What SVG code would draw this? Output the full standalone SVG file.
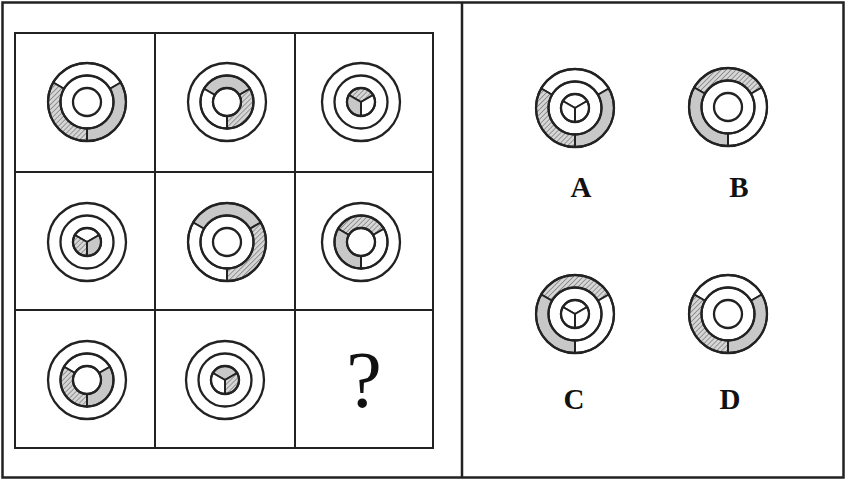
<svg xmlns="http://www.w3.org/2000/svg" xmlns:xlink="http://www.w3.org/1999/xlink" width="846" height="480" viewBox="0 0 846 480">
<style>
.frame{fill:none;stroke:#222;stroke-width:2.5}
.grid{fill:none;stroke:#222;stroke-width:2}
.ring{fill:none;stroke:#222;stroke-width:2.3}
.w{fill:#fff;stroke:#222;stroke-width:2}
.g{fill:#c8c8c8;stroke:#222;stroke-width:2}
.h{fill:url(#hatch);stroke:#222;stroke-width:2}
.lbl{font-family:"Liberation Serif","Times New Roman",serif;font-weight:bold;font-size:29px;fill:#111;text-anchor:middle}
.q{font-family:"Liberation Serif","Times New Roman",serif;font-size:80px;fill:#111;text-anchor:middle}
</style>
<defs>
<pattern id="hatch" patternUnits="userSpaceOnUse" width="3.5" height="3.5" patternTransform="rotate(45)">
<rect width="3.5" height="3.5" fill="#d6d6d6"/>
<line x1="0" y1="0" x2="0" y2="3.5" stroke="#666" stroke-width="1.2"/>
</pattern>
<path id="o-t" d="M -33.775 -19.5 A 39 39 0 0 1 33.775 -19.5 L 22.95 -13.25 A 26.5 26.5 0 0 0 -22.95 -13.25 Z"/>
<path id="o-r" d="M 33.775 -19.5 A 39 39 0 0 1 0 39 L 0 26.5 A 26.5 26.5 0 0 0 22.95 -13.25 Z"/>
<path id="o-l" d="M 0 39 A 39 39 0 0 1 -33.775 -19.5 L -22.95 -13.25 A 26.5 26.5 0 0 0 0 26.5 Z"/>
<path id="m-t" d="M -22.95 -13.25 A 26.5 26.5 0 0 1 22.95 -13.25 L 12.124 -7 A 14 14 0 0 0 -12.124 -7 Z"/>
<path id="m-r" d="M 22.95 -13.25 A 26.5 26.5 0 0 1 0 26.5 L 0 14 A 14 14 0 0 0 12.124 -7 Z"/>
<path id="m-l" d="M 0 26.5 A 26.5 26.5 0 0 1 -22.95 -13.25 L -12.124 -7 A 14 14 0 0 0 0 14 Z"/>
<path id="i-t" d="M -12.124 -7 A 14 14 0 0 1 12.124 -7 L 0 0 Z"/>
<path id="i-r" d="M 12.124 -7 A 14 14 0 0 1 0 14 L 0 0 Z"/>
<path id="i-l" d="M 0 14 A 14 14 0 0 1 -12.124 -7 L 0 0 Z"/>
<g id="rings">
<circle class="ring" r="39"/>
<circle class="ring" r="26.5"/>
<circle class="ring" r="14"/>
</g>
</defs>

<rect class="frame" x="2.5" y="2.5" width="841" height="475"/>
<line class="frame" x1="462" y1="2" x2="462" y2="478" stroke-width="3"/>

<g id="grid">
<rect class="grid" x="15" y="33" width="418" height="415"/>
<line class="grid" x1="155" y1="33" x2="155" y2="448"/>
<line class="grid" x1="295" y1="33" x2="295" y2="448"/>
<line class="grid" x1="15" y1="172" x2="433" y2="172"/>
<line class="grid" x1="15" y1="310" x2="433" y2="310"/>
</g>

<g id="r1c1" transform="translate(87,102)">
<use href="#o-t" class="w"/><use href="#o-r" class="g"/><use href="#o-l" class="h"/>
<use href="#rings"/>
</g>
<g id="r1c2" transform="translate(227,102)">
<use href="#m-t" class="g"/><use href="#m-r" class="h"/><use href="#m-l" class="w"/>
<use href="#rings"/>
</g>
<g id="r1c3" transform="translate(361,102)">
<use href="#i-t" class="h"/><use href="#i-r" class="w"/><use href="#i-l" class="g"/>
<use href="#rings"/>
</g>

<g id="r2c1" transform="translate(87,242)">
<use href="#i-t" class="w"/><use href="#i-r" class="g"/><use href="#i-l" class="h"/>
<use href="#rings"/>
</g>
<g id="r2c2" transform="translate(227,242)">
<use href="#o-t" class="g"/><use href="#o-r" class="h"/><use href="#o-l" class="w"/>
<use href="#rings"/>
</g>
<g id="r2c3" transform="translate(361,242)">
<use href="#m-t" class="h"/><use href="#m-r" class="w"/><use href="#m-l" class="g"/>
<use href="#rings"/>
</g>

<g id="r3c1" transform="translate(87,380)">
<use href="#m-t" class="w"/><use href="#m-r" class="g"/><use href="#m-l" class="h"/>
<use href="#rings"/>
</g>
<g id="r3c2" transform="translate(225,380)">
<use href="#i-t" class="g"/><use href="#i-r" class="h"/><use href="#i-l" class="w"/>
<use href="#rings"/>
</g>
<g id="r3c3">
<text class="q" x="364" y="407">?</text>
</g>

<g id="optA" transform="translate(575,108)">
<use href="#o-t" class="w"/><use href="#o-r" class="g"/><use href="#o-l" class="h"/>
<use href="#i-t" class="w"/><use href="#i-r" class="w"/><use href="#i-l" class="w"/>
<use href="#rings"/>
</g>
<text class="lbl" x="581" y="197">A</text>

<g id="optB" transform="translate(728,107)">
<use href="#o-t" class="h"/><use href="#o-r" class="w"/><use href="#o-l" class="g"/>
<use href="#rings"/>
</g>
<text class="lbl" x="739" y="197">B</text>

<g id="optC" transform="translate(575,314)">
<use href="#o-t" class="h"/><use href="#o-r" class="w"/><use href="#o-l" class="g"/>
<use href="#i-t" class="w"/><use href="#i-r" class="w"/><use href="#i-l" class="w"/>
<use href="#rings"/>
</g>
<text class="lbl" x="574" y="409">C</text>

<g id="optD" transform="translate(728,314)">
<use href="#o-t" class="w"/><use href="#o-r" class="g"/><use href="#o-l" class="h"/>
<use href="#rings"/>
</g>
<text class="lbl" x="730" y="409">D</text>
</svg>
